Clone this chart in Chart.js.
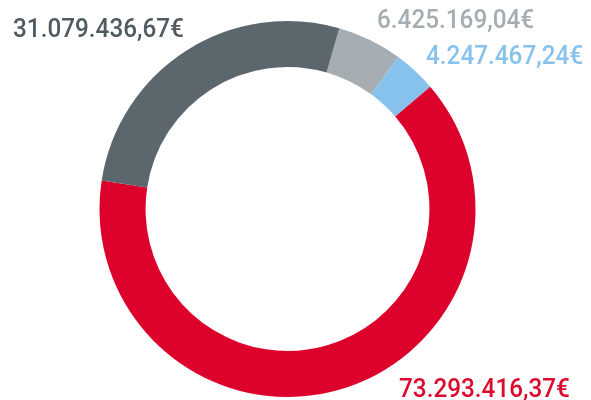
<!DOCTYPE html>
<html>
<head>
<meta charset="utf-8">
<script src="https://cdn.jsdelivr.net/npm/chart.js@4"></script>
<style>
  html, body { margin: 0; padding: 0; background: #fff; }
  #wrap { position: relative; width: 591px; height: 400px; overflow: hidden; }
  canvas { display: block; }
  .lbl {
    position: absolute;
    font-family: Roboto, sans-serif;
    font-weight: 500;
    font-size: 26px;
    line-height: 1;
    white-space: nowrap;
    transform: scaleX(0.935);
    transform-origin: left top;
  }
</style>
</head>
<body>
<div id="wrap">
  <canvas id="chart" width="591" height="400"></canvas>
</div>
<script>
// slices, clockwise from the rotation start
const categories = ['Segment C', 'Segment D', 'Segment A', 'Segment B'];
const values = [6425169.04, 4247467.24, 73293416.37, 31079436.67];
const valueLabels = ['6.425.169,04€', '4.247.467,24€', '73.293.416,37€', '31.079.436,67€'];
const colors = ['#a5adb2', '#86c2ec', '#dc022b', '#5c666d'];
const labelColors = ['#a5adb2', '#86c2ec', '#dc0a2d', '#4f5a61'];
// where each value label sits (left, top) in px
const labelPos = [[377, 6], [426, 42], [399, 375], [13, 15]];

const wrap = document.getElementById('wrap');
valueLabels.forEach((txt, i) => {
  const d = document.createElement('div');
  d.className = 'lbl';
  d.textContent = txt;
  d.style.color = labelColors[i];
  d.style.left = labelPos[i][0] + 'px';
  d.style.top = labelPos[i][1] + 'px';
  wrap.appendChild(d);
});

new Chart(document.getElementById('chart').getContext('2d'), {
  type: 'doughnut',
  data: {
    labels: categories,
    datasets: [{
      data: values,
      backgroundColor: colors,
      borderWidth: 0,
      hoverOffset: 0,
    }],
  },
  options: {
    responsive: false,
    animation: false,
    rotation: 16,
    cutout: '75.5%',
    layout: { padding: { top: 21, bottom: 3, left: 0, right: 16 } },
    plugins: {
      legend: { display: false },
      tooltip: { enabled: false },
    },
  },
});
</script>
</body>
</html>
